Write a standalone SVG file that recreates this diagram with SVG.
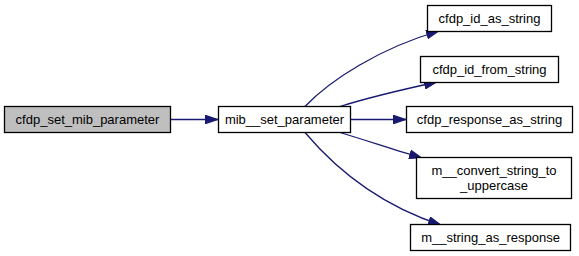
<svg xmlns="http://www.w3.org/2000/svg" width="579" height="256" viewBox="0 0 579 256">
<style>
  .node rect { fill: #ffffff; stroke: #000000; stroke-width: 1.3; }
  .node.root rect { fill: #bfbfbf; }
  .node text { font-family: "Liberation Sans", Arial, sans-serif; font-size: 13px; fill: #000000; text-anchor: middle; }
  .edge { fill: none; stroke: #191970; stroke-width: 1.3; }
</style>
<defs>
  <marker id="arrow" viewBox="0 0 13 9.4" refX="13" refY="4.7" markerWidth="13" markerHeight="9.4" markerUnits="userSpaceOnUse" orient="auto">
    <path d="M0.6,0.6 L12.4,4.7 L0.6,8.8 Z" fill="#191970" stroke="#191970" stroke-width="1.2"/>
  </marker>
</defs>
<rect width="579" height="256" fill="#ffffff"/>
<g id="connectors">
  <path class="edge" marker-end="url(#arrow)" d="M171,119.5 L218,119.5"/>
  <path class="edge" marker-end="url(#arrow)" d="M305,106.5 C330,80 380,48 439,31"/>
  <path class="edge" marker-end="url(#arrow)" d="M340,106.5 C370,97 405,89 437,82"/>
  <path class="edge" marker-end="url(#arrow)" d="M351,119.5 L406,119.5"/>
  <path class="edge" marker-end="url(#arrow)" d="M340,132.5 C368,141 395,150 422,158"/>
  <path class="edge" marker-end="url(#arrow)" d="M305,132.5 C335,168 380,205 441,225"/>
</g>
<g id="node-cfdp_set_mib_parameter" class="node root">
  <rect x="4.5" y="106.5" width="166" height="26"/>
  <text x="87.5" y="124">cfdp_set_mib_parameter</text>
</g>
<g id="node-mib__set_parameter" class="node">
  <rect x="218.5" y="106.5" width="132" height="26"/>
  <text x="284.5" y="124">mib__set_parameter</text>
</g>
<g id="node-cfdp_id_as_string" class="node">
  <rect x="427.5" y="5.5" width="124" height="26"/>
  <text x="489.5" y="23">cfdp_id_as_string</text>
</g>
<g id="node-cfdp_id_from_string" class="node">
  <rect x="420.5" y="56.5" width="138" height="26"/>
  <text x="489.5" y="74">cfdp_id_from_string</text>
</g>
<g id="node-cfdp_response_as_string" class="node">
  <rect x="406.5" y="106.5" width="166" height="26"/>
  <text x="489.5" y="124">cfdp_response_as_string</text>
</g>
<g id="node-m__convert_string_to_uppercase" class="node">
  <rect x="416.5" y="157.5" width="155" height="41"/>
  <text x="494" y="175">m__convert_string_to</text>
  <text x="494" y="190">_uppercase</text>
</g>
<g id="node-m__string_as_response" class="node">
  <rect x="410.5" y="224.5" width="160" height="26"/>
  <text x="490.5" y="242">m__string_as_response</text>
</g>
</svg>
